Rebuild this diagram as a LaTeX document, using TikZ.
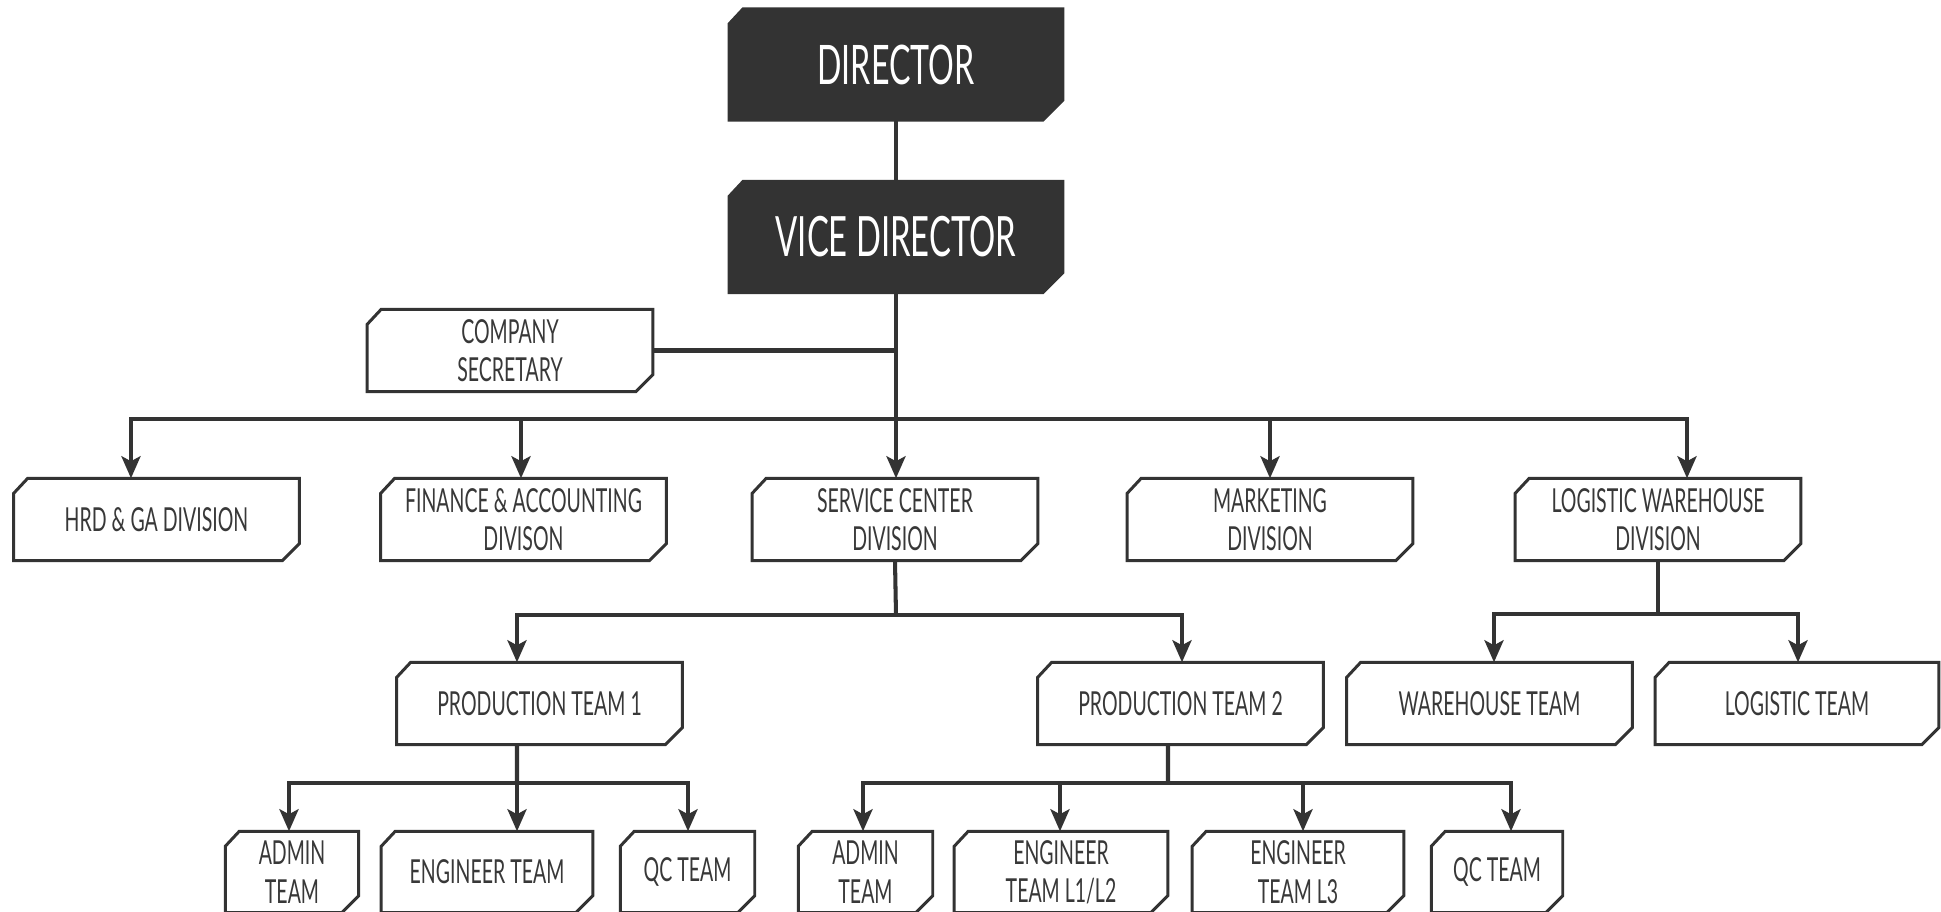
\documentclass[tikz,border=0pt]{standalone}
\usepackage{fontspec}
\setmainfont{Lato}[FakeStretch=0.59]
\usetikzlibrary{arrows.meta,calc,backgrounds}
\definecolor{ink}{HTML}{333333}
\definecolor{txt}{HTML}{383838}
\tikzset{
 box/.style={inner sep=0pt, align=center, text=txt, font=\fontsize{9.4}{10.9}\selectfont},
 divbox/.style={box, minimum width=2.84cm, minimum height=0.81cm},
 smallbox/.style={box, minimum width=#1, minimum height=0.8cm},
 darkbox/.style={inner sep=0pt, align=center, text=white, minimum width=3.32cm, minimum height=1.1cm},
 line/.style={draw=ink, line width=1.15pt},
 arr/.style={line, -{Stealth[length=0.22cm,width=0.19cm,inset=0.05cm]}},
 outl/.style={draw=ink, line width=0.85pt, line join=miter},
}
\newcommand\chbox[3]{%
 \draw[outl, fill=#2] ($(#1.north west)+(0.14cm,0cm)$) -- (#1.north east) -- ($(#1.south east)+(0cm,#3)$) -- ($(#1.south east)+(-#3,0cm)$) -- (#1.south west) -- ($(#1.north west)+(0cm,-0.15cm)$) -- cycle;}
\begin{document}
\begin{tikzpicture}[x=0.01cm,y=-0.01cm]
\useasboundingbox (0,0) rectangle (1941,911);
% top
\node[darkbox, font=\fontsize{15.5}{18}\selectfont] (dir) at (896,64.5) {DIRECTOR};
\node[darkbox, font=\fontsize{15.8}{19}\selectfont] (vice) at (896,237) {VICE DIRECTOR};
\node[divbox] (sec) at (510,350.5) {COMPANY\\SECRETARY};
% divisions
\node[divbox] (hrd) at (156.5,519.5) {HRD \& GA DIVISION};
\node[divbox] (fin) at (523.5,519.5) {FINANCE \& ACCOUNTING\\DIVISON};
\node[divbox] (svc) at (895,519.5) {SERVICE CENTER\\DIVISION};
\node[divbox] (mkt) at (1270,519.5) {MARKETING\\DIVISION};
\node[divbox] (lw) at (1658,519.5) {LOGISTIC WAREHOUSE\\DIVISION};
% teams
\node[divbox] (pt1) at (539.5,703.5) {PRODUCTION TEAM 1};
\node[divbox] (pt2) at (1180.5,703.5) {PRODUCTION TEAM 2};
\node[divbox] (wh) at (1489.5,703.5) {WAREHOUSE TEAM};
\node[divbox, minimum width=2.82cm] (lt) at (1797,703.5) {LOGISTIC TEAM};
% sub teams
\node[smallbox=1.32cm] (ad1) at (292,872) {ADMIN\\TEAM};
\node[smallbox=2.10cm] (en1) at (487,872) {ENGINEER TEAM};
\node[smallbox=1.33cm] (qc1) at (687.5,872) {QC TEAM};
\node[smallbox=1.33cm] (ad2) at (865.5,872) {ADMIN\\TEAM};
\node[smallbox=2.12cm] (en2) at (1061,872) {ENGINEER\\TEAM L1/L2};
\node[smallbox=2.10cm] (en3) at (1298,872) {ENGINEER\\TEAM L3};
\node[smallbox=1.30cm] (qc2) at (1497,872) {QC TEAM};
% outlines
\begin{pgfonlayer}{background}
\chbox{dir}{ink}{0.2cm}
\chbox{vice}{ink}{0.2cm}
\foreach \n in {sec,hrd,fin,svc,mkt,lw,pt1,pt2,wh,lt,ad1,en1,qc1,ad2,en2,en3,qc2}{\chbox{\n}{white}{0.17cm}}
\end{pgfonlayer}
% connectors
\coordinate (b1) at (896,419);
\coordinate (b2) at (896,615);
\coordinate (b3) at (1658,614);
\coordinate (b4) at (517,783);
\coordinate (b5) at (1168,783);
\draw[line] (dir.south) -- (vice.south |- dir.south) -- (vice.north);
\draw[line] (vice.south) -- (b1);
\draw[line] (sec.east) -- (sec.east -| vice.south);
\draw[arr] (b1) -| ([xshift=-0.255cm]hrd.north);
\draw[arr] (b1) -| ([xshift=-0.025cm]fin.north);
\draw[arr] (b1) -- (b1 |- svc.north);
\draw[arr] (b1) -| (mkt.north);
\draw[arr] (b1) -| ([xshift=0.29cm]lw.north);
\draw[line] (svc.south) -- (b2);
\draw[arr] (b2) -| ([xshift=-0.225cm]pt1.north);
\draw[arr] (b2) -| ([xshift=0.015cm]pt2.north);
\draw[line] (lw.south) -- (b3);
\draw[arr] (b3) -| ([xshift=0.045cm]wh.north);
\draw[arr] (b3) -| ([xshift=0.01cm]lt.north);
\draw[line] ([xshift=-0.225cm]pt1.south) -- (b4);
\draw[arr] (b4) -| ([xshift=-0.03cm]ad1.north);
\draw[arr] (b4) -| ([xshift=0.30cm]en1.north);
\draw[arr] (b4) -| ([xshift=0.005cm]qc1.north);
\draw[line] ([xshift=-0.125cm]pt2.south) -- (b5);
\draw[arr] (b5) -| ([xshift=-0.025cm]ad2.north);
\draw[arr] (b5) -| ([xshift=-0.01cm]en2.north);
\draw[arr] (b5) -| ([xshift=0.05cm]en3.north);
\draw[arr] (b5) -| ([xshift=0.14cm]qc2.north);
\end{tikzpicture}
\end{document}
